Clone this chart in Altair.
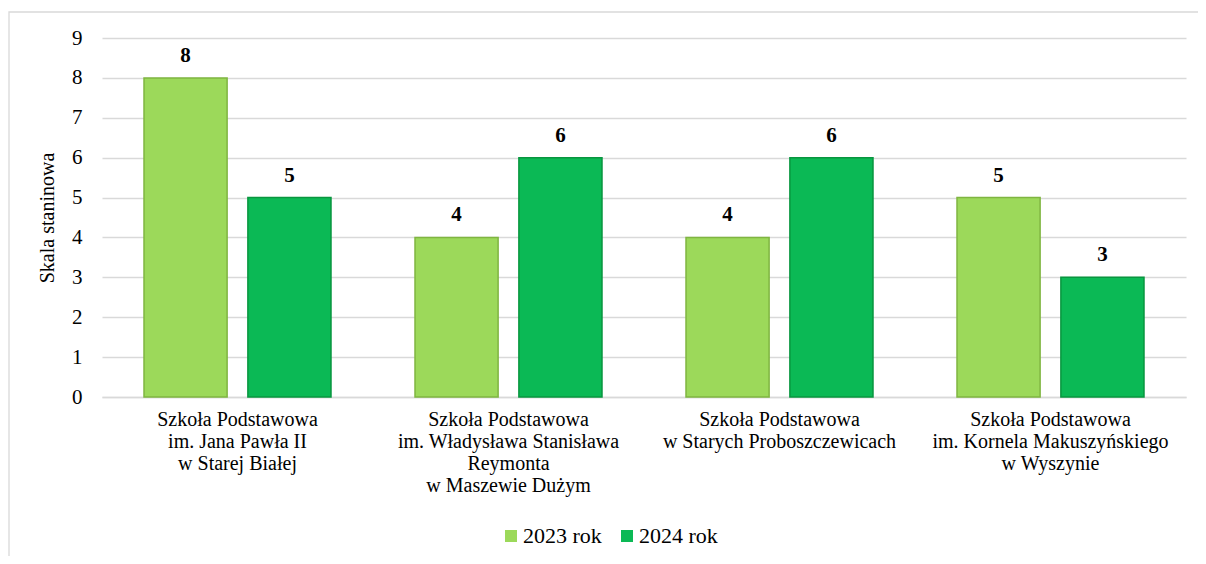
import altair as alt
import pandas as pd

categories = [
    "Szkoła Podstawowa|im. Jana Pawła II|w Starej Białej",
    "Szkoła Podstawowa|im. Władysława Stanisława|Reymonta|w Maszewie Dużym",
    "Szkoła Podstawowa|w Starych Proboszczewicach",
    "Szkoła Podstawowa|im. Kornela Makuszyńskiego|w Wyszynie",
]
series = ["2023 rok", "2024 rok"]
values_2023 = [8, 4, 4, 5]
values_2024 = [5, 6, 6, 3]
colors = ["#9cd95a", "#0bb955"]
strokes = ["#7fb540", "#08963f"]

rows = []
for c, v in zip(categories, values_2023):
    rows.append({"szkola": c, "rok": series[0], "wartosc": v})
for c, v in zip(categories, values_2024):
    rows.append({"szkola": c, "rok": series[1], "wartosc": v})
df = pd.DataFrame(rows)

FONT = "Liberation Serif"

x_enc = alt.X(
    "szkola:N", sort=categories, title=None,
    scale=alt.Scale(paddingInner=0.31, paddingOuter=0.155),
    axis=alt.Axis(
        labelExpr="split(datum.label, '|')", labelAngle=0, labelFontSize=20,
        labelLineHeight=22, labelPadding=12, labelLimit=400, ticks=False,
        domainColor="#d9d9d9", domainWidth=1.3, labelColor="#000000", labelFont=FONT,
        labelBaseline="top",
    ),
)
xoff = alt.XOffset("rok:N", sort=series, scale=alt.Scale(paddingInner=0.2, paddingOuter=0))
y_enc = alt.Y(
    "wartosc:Q", title="Skala staninowa",
    scale=alt.Scale(domain=[0, 9], nice=False),
    axis=alt.Axis(
        values=[0, 1, 2, 3, 4, 5, 6, 7, 8, 9], labelOverlap=False,
        labelFontSize=21, labelFont=FONT, labelColor="#000000",
        ticks=False, domain=False, gridColor="#d9d9d9", gridWidth=1.3,
        labelPadding=20, titleFont=FONT, titleFontSize=20, titleFontWeight="normal",
        titleColor="#000000", titlePadding=14,
    ),
)

bars = alt.Chart(df).mark_bar(strokeWidth=1.5).encode(
    x=x_enc,
    xOffset=xoff,
    y=y_enc,
    color=alt.Color(
        "rok:N", sort=series, title=None,
        scale=alt.Scale(domain=series, range=colors),
        legend=alt.Legend(
            orient="none", direction="horizontal", legendX=398, legendY=487,
            padding=0, symbolType="square", symbolSize=144, labelFontSize=22,
            labelFont=FONT, labelColor="#000000", columnPadding=14,
            symbolStrokeWidth=0, labelOffset=1,
        ),
    ),
    stroke=alt.Stroke("rok:N", scale=alt.Scale(domain=series, range=strokes), legend=None),
)

labels = alt.Chart(df).mark_text(
    dy=-22, baseline="middle", fontSize=21, fontWeight="bold", font=FONT, color="#000000"
).encode(
    x=x_enc,
    xOffset=xoff,
    y=y_enc,
    text="wartosc:Q",
)

frame = alt.Chart(alt.Data(values=[{"a": 1}])).mark_rect(
    fill=None, stroke="#d9d9d9", strokeWidth=1.3
).encode(
    x=alt.value(-93), x2=alt.value(1300), y=alt.value(-26), y2=alt.value(700)
)

chart = alt.layer(bars, labels, frame).properties(
    width=1084, height=359,
    autosize=alt.AutoSizeParams(type="none"),
    padding={"left": 94, "top": 30, "right": 12, "bottom": 159},
    background="#ffffff",
).configure_view(stroke=None)

chart.save("out.html", embed_options={"renderer": "svg", "actions": False})
